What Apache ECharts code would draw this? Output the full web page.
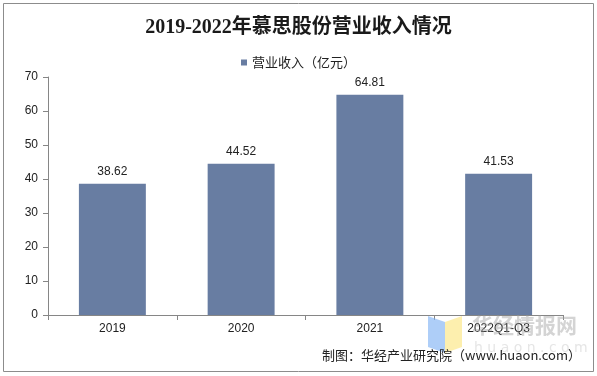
<!DOCTYPE html>
<html>
<head>
<meta charset="utf-8">
<script src="https://cdn.jsdelivr.net/npm/echarts@6/dist/echarts.min.js"></script>
<style>
html, body { margin: 0; padding: 0; background: #fff; }
#chart { width: 597px; height: 376px; }
</style>
</head>
<body>
<div id="chart"></div>
<script>
// 年份与营业收入（亿元）
var years = ['2019', '2020', '2021', '2022Q1-Q3'];
var revenue = [38.62, 44.52, 64.81, 41.53];
var seriesName = '营业收入（亿元）';

var myChart = echarts.init(document.getElementById('chart'));
var option = {
    backgroundColor: '#fff',
    animation: false,
    title: {
        text: '2019-2022年慕思股份营业收入情况',
        left: 'center',
        top: 13,
        textStyle: {
            fontFamily: "'Liberation Serif', 'Noto Sans CJK SC'",
            fontSize: 20,
            fontWeight: 'bold',
            color: '#1a1a1a'
        }
    },
    legend: {
        top: 51,
        left: 'center',
        icon: 'rect',
        itemWidth: 6,
        itemHeight: 6,
        itemGap: 2,
        textStyle: {
            fontFamily: "'Noto Sans CJK SC'",
            fontSize: 13,
            color: '#222'
        },
        data: [seriesName]
    },
    grid: {
        left: 48,
        right: 34,
        top: 77,
        bottom: 61
    },
    xAxis: {
        type: 'category',
        data: years,
        axisLine: { lineStyle: { color: '#868686' } },
        axisTick: { show: true, length: 5, lineStyle: { color: '#868686' } },
        axisLabel: {
            fontFamily: "'Liberation Sans'",
            fontSize: 12,
            color: '#222',
            margin: 8
        }
    },
    yAxis: {
        type: 'value',
        min: 0,
        max: 70,
        interval: 10,
        splitLine: { show: false },
        axisLine: { show: true, lineStyle: { color: '#868686' } },
        axisTick: { show: true, length: 5, lineStyle: { color: '#868686' } },
        axisLabel: {
            fontFamily: "'Liberation Sans'",
            fontSize: 12,
            color: '#222',
            margin: 10
        }
    },
    series: [{
        name: seriesName,
        type: 'bar',
        data: revenue,
        barWidth: '52%',
        itemStyle: { color: '#687da2' },
        label: {
            show: true,
            position: 'top',
            distance: 6,
            fontFamily: "'Liberation Sans'",
            fontSize: 12,
            color: '#222'
        }
    }],
    graphic: [
        // 外边框
        {
            type: 'rect',
            shape: { x: 3.5, y: 3.5, width: 590, height: 368 },
            style: { fill: 'none', stroke: '#8c8c8c', lineWidth: 1 },
            z: 0
        },
        // 水印 logo
        {
            type: 'polygon',
            shape: { points: [[428, 316], [445, 322], [445, 353], [428, 347]] },
            style: { fill: 'rgba(130,180,245,0.65)' },
            z: 1
        },
        {
            type: 'polygon',
            shape: { points: [[445, 322], [462, 316], [462, 347], [445, 353]] },
            style: { fill: 'rgba(252,230,130,0.65)' },
            z: 1
        },
        {
            type: 'text',
            left: 472,
            top: 315,
            style: {
                text: '华经情报网',
                font: "bold 21px 'Noto Sans CJK SC'",
                fill: 'rgba(160,160,160,0.45)'
            },
            z: 1
        },
        {
            type: 'text',
            left: 474,
            top: 341,
            style: {
                text: 'h u a o n . c o m',
                font: "14px 'DejaVu Sans'",
                fill: 'rgba(180,180,180,0.35)'
            },
            z: 1
        },
        // 来源
        {
            type: 'text',
            right: 16,
            top: 349,
            style: {
                text: '制图：华经产业研究院（www.huaon.com）',
                font: "13px 'Noto Sans CJK SC'",
                fill: '#222'
            },
            z: 5
        }
    ]
};
myChart.setOption(option);
</script>
</body>
</html>
